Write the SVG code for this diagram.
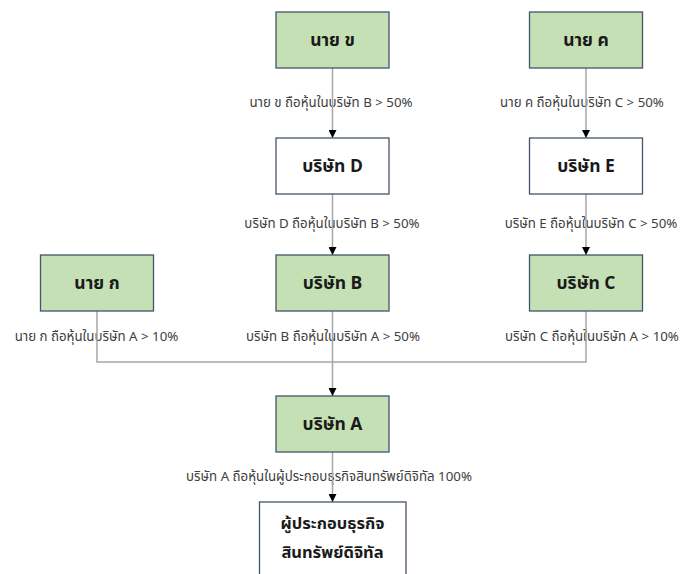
<svg xmlns="http://www.w3.org/2000/svg" width="683" height="574" viewBox="0 0 683 574">
<defs>
<style>
.box rect{stroke:#44546a;stroke-width:1.3}
.g rect{fill:#c5e0b4}
.w rect{fill:#ffffff}
.bt{font-family:"Noto Sans Thai","Noto Sans","DejaVu Sans",sans-serif;font-size:17.5px;font-weight:bold;fill:#1a1a1a;text-anchor:middle;dominant-baseline:central}
.bt2{font-size:16.5px}
.lb{font-family:"Noto Sans Thai","Noto Sans","DejaVu Sans",sans-serif;font-size:13.3px;fill:#404040;text-anchor:middle;dominant-baseline:central}
.ln{stroke:#a6a6a6;stroke-width:1.5;fill:none}
</style>
<marker id="ar" viewBox="0 0 10 10" refX="10" refY="5" markerWidth="8" markerHeight="8" markerUnits="userSpaceOnUse" orient="auto">
<path d="M0,0 L10,5 L0,10 z" fill="#000"/>
</marker>
</defs>
<rect width="683" height="574" fill="#fff"/>
<g id="labels">
<text class="lb" x="331" y="103">นาย ข ถือหุ้นในบริษัท B &gt; 50%</text>
<text class="lb" x="582" y="103">นาย ค ถือหุ้นในบริษัท C &gt; 50%</text>
<text class="lb" x="332" y="224">บริษัท D ถือหุ้นในบริษัท B &gt; 50%</text>
<text class="lb" x="591" y="224">บริษัท E ถือหุ้นในบริษัท C &gt; 50%</text>
<text class="lb" x="96.5" y="337">นาย ก ถือหุ้นในบริษัท A &gt; 10%</text>
<text class="lb" x="333" y="337">บริษัท B ถือหุ้นในบริษัท A &gt; 50%</text>
<text class="lb" x="592" y="337">บริษัท C ถือหุ้นในบริษัท A &gt; 10%</text>
<text class="lb" x="329" y="477">บริษัท A ถือหุ้นในผู้ประกอบธุรกิจสินทรัพย์ดิจิทัล 100%</text>
</g>
<g id="connectors">
<line class="ln" x1="332.5" y1="68" x2="332.5" y2="138" marker-end="url(#ar)"/>
<line class="ln" x1="586" y1="68" x2="586" y2="138" marker-end="url(#ar)"/>
<line class="ln" x1="332.5" y1="194" x2="332.5" y2="255" marker-end="url(#ar)"/>
<line class="ln" x1="586" y1="194" x2="586" y2="255" marker-end="url(#ar)"/>
<polyline class="ln" points="97,311 97,362 586,362 586,311"/>
<line class="ln" x1="332.5" y1="311" x2="332.5" y2="396" marker-end="url(#ar)"/>
<line class="ln" x1="332.5" y1="452" x2="332.5" y2="502" marker-end="url(#ar)"/>
</g>
<g id="nai-kho" class="box g"><rect x="276" y="12" width="113" height="56"/><text class="bt" x="332.5" y="40">นาย ข</text></g>
<g id="nai-kho-khwai" class="box g"><rect x="529.5" y="12" width="113" height="56"/><text class="bt" x="586" y="40">นาย ค</text></g>
<g id="company-d" class="box w"><rect x="276" y="138" width="113" height="56"/><text class="bt" x="332.5" y="166">บริษัท D</text></g>
<g id="company-e" class="box w"><rect x="529.5" y="138" width="113" height="56"/><text class="bt" x="586" y="166">บริษัท E</text></g>
<g id="nai-ko" class="box g"><rect x="40.5" y="255" width="113" height="56"/><text class="bt" x="97" y="283">นาย ก</text></g>
<g id="company-b" class="box g"><rect x="276" y="255" width="113" height="56"/><text class="bt" x="332.5" y="283">บริษัท B</text></g>
<g id="company-c" class="box g"><rect x="529.5" y="255" width="113" height="56"/><text class="bt" x="586" y="283">บริษัท C</text></g>
<g id="company-a" class="box g"><rect x="276" y="396" width="113" height="56"/><text class="bt" x="332.5" y="424">บริษัท A</text></g>
<g id="operator" class="box w"><rect x="259.5" y="502" width="146.5" height="80"/><text class="bt bt2" x="332.5" y="523">ผู้ประกอบธุรกิจ</text><text class="bt bt2" x="332.5" y="552">สินทรัพย์ดิจิทัล</text></g>
</svg>
